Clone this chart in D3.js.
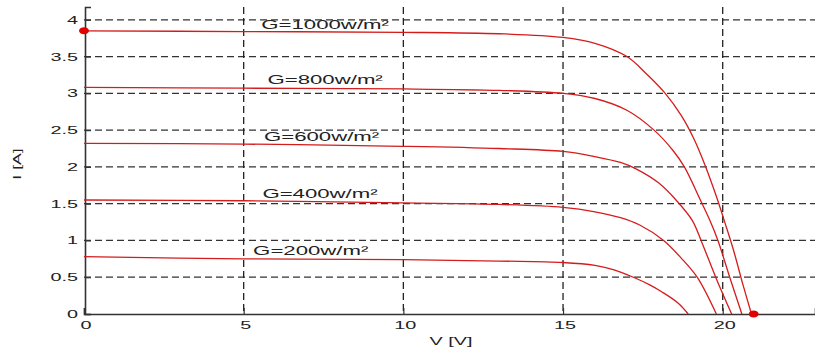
<!DOCTYPE html>
<html>
<head>
<meta charset="utf-8">
<script src="https://cdn.jsdelivr.net/npm/d3@7"></script>
<style>
  body { margin: 0; background: #fff; }
  text { font-family: "Liberation Sans", Arial, sans-serif; fill: #222; }
</style>
</head>
<body>
<figure id="iv" style="margin:0"></figure>
<script>
// I-V curves of a PV module at several irradiance levels
const labels = ["G=1000w/m²", "G=800w/m²", "G=600w/m²", "G=400w/m²", "G=200w/m²"];

const v1000 = [0, 5, 10, 13, 15, 16, 17, 17.6, 18.2, 18.7, 19.1, 19.45, 19.8, 20.1, 20.35, 20.62, 20.9];
const i1000 = [3.85, 3.84, 3.83, 3.81, 3.76, 3.68, 3.5, 3.27, 3.0, 2.7, 2.38, 2.02, 1.6, 1.2, 0.85, 0.42, 0];

const v800 = [0, 5, 10, 13, 15, 16, 17, 17.85, 18.45, 18.8, 19.3, 19.6, 19.85, 20.22, 20.6];
const i800 = [3.08, 3.07, 3.06, 3.04, 3.0, 2.93, 2.77, 2.5, 2.22, 2.0, 1.55, 1.27, 1.0, 0.5, 0];

const v600 = [0, 5, 10, 13, 15, 16, 16.8, 17.3, 18.0, 18.6, 19.05, 19.35, 19.8, 20.28];
const i600 = [2.32, 2.31, 2.28, 2.25, 2.21, 2.14, 2.06, 1.97, 1.78, 1.52, 1.27, 0.97, 0.48, 0];

const v400 = [0, 5, 10, 13, 15, 16, 16.8, 17.4, 18.15, 18.7, 19.2, 19.8];
const i400 = [1.55, 1.54, 1.51, 1.49, 1.45, 1.39, 1.31, 1.21, 1.0, 0.76, 0.5, 0];

const v200 = [0, 5, 10, 13, 15, 16, 16.6, 17.2, 17.7, 18.1, 18.6, 18.92];
const i200 = [0.78, 0.75, 0.74, 0.72, 0.70, 0.66, 0.6, 0.5, 0.4, 0.3, 0.15, 0];

// label anchor points (V, I) for the G= texts
const labelV = [7.55, 7.55, 7.44, 7.39, 7.1];
const labelI = [3.93, 3.18, 2.4, 1.63, 0.855];

// marked points: short-circuit current and open-circuit voltage at 1000 w/m²
const markV = [0, 20.97];
const markI = [3.85, 0];

const xTicks = [0, 5, 10, 15, 20];
const yTicks = [0, 0.5, 1, 1.5, 2, 2.5, 3, 3.5, 4];

const width = 815, height = 347;
const plotLeft = 84, plotRight = 815, plotTop = 7, plotBottom = 314;
const stretch = 1.8; // text in the picture is drawn wide

const series = [[v1000, i1000], [v800, i800], [v600, i600], [v400, i400], [v200, i200]]
  .map(s => s[0].map((v, k) => ({ v: v, i: s[1][k] })));

const svg = d3.select("figure#iv")
  .append("svg")
  .attr("width", width)
  .attr("height", height);

const x = d3.scaleLinear().domain([0, 22.89]).range([plotLeft, plotRight]);
const y = d3.scaleLinear().domain([0, 4.174]).range([plotBottom, plotTop]);

// dashed grid
svg.append("g")
  .selectAll("line")
  .data(yTicks.filter(t => t > 0))
  .enter()
  .append("line")
  .attr("x1", plotLeft).attr("x2", plotRight)
  .attr("y1", d => y(d)).attr("y2", d => y(d))
  .attr("stroke", "#333")
  .attr("stroke-width", 1.3)
  .attr("stroke-dasharray", "7,4");

svg.append("g")
  .selectAll("line")
  .data(xTicks.filter(t => t > 0))
  .enter()
  .append("line")
  .attr("x1", d => x(d)).attr("x2", d => x(d))
  .attr("y1", plotTop).attr("y2", plotBottom)
  .attr("stroke", "#222")
  .attr("stroke-width", 1.3)
  .attr("stroke-dasharray", "7,4");

// axes
const xAxis = svg.append("g")
  .attr("transform", "translate(0," + plotBottom + ")")
  .call(d3.axisBottom(x).tickValues(xTicks).tickSize(-6).tickFormat(d3.format("d")));
const yAxis = svg.append("g")
  .attr("transform", "translate(" + (plotLeft + 1) + ",0)")
  .call(d3.axisLeft(y).tickValues(yTicks).tickSize(-6).tickFormat(d => d));

[xAxis, yAxis].forEach(a => {
  a.select(".domain").attr("stroke", "#333").attr("stroke-width", 1.6);
  a.selectAll(".tick line").attr("stroke", "#333").attr("stroke-width", 1.2);
  a.selectAll("text").remove();
});

// tick labels drawn wide, like the picture
svg.append("g")
  .selectAll("text")
  .data(xTicks)
  .enter()
  .append("text")
  .attr("transform", d => "translate(" + (x(d) + 2) + "," + (plotBottom + 15) + ") scale(" + stretch + ",1)")
  .attr("text-anchor", "middle")
  .attr("font-size", 11)
  .text(d => d);

svg.append("g")
  .selectAll("text")
  .data(yTicks)
  .enter()
  .append("text")
  .attr("transform", d => "translate(78," + (y(d) + 4) + ") scale(" + stretch + ",1)")
  .attr("text-anchor", "end")
  .attr("font-size", 11)
  .text(d => d);

svg.append("text")
  .attr("transform", "translate(451,345) scale(" + stretch + ",1)")
  .attr("text-anchor", "middle")
  .attr("font-size", 11)
  .text("V [V]");

svg.append("text")
  .attr("transform", "translate(21,164) rotate(-90) scale(1.6,1)")
  .attr("text-anchor", "middle")
  .attr("font-size", 11)
  .text("I [A]");

// curves
const line = d3.line()
  .x(d => x(d.v))
  .y(d => y(d.i))
  .curve(d3.curveCatmullRom.alpha(0.5));

svg.append("g")
  .selectAll("path")
  .data(series)
  .enter()
  .append("path")
  .attr("d", line)
  .attr("fill", "none")
  .attr("stroke", "#d41c1c")
  .attr("stroke-width", 1.3);

// irradiance labels
svg.append("g")
  .selectAll("text")
  .data(labels)
  .enter()
  .append("text")
  .attr("transform", (d, k) => "translate(" + x(labelV[k]) + "," + (y(labelI[k]) + 4) + ") scale(1.85,1)")
  .attr("text-anchor", "middle")
  .attr("font-size", 12)
  .text(d => d);

// marked points
svg.append("g")
  .selectAll("ellipse")
  .data(markV)
  .enter()
  .append("ellipse")
  .attr("cx", d => x(d))
  .attr("cy", (d, k) => y(markI[k]))
  .attr("rx", 5)
  .attr("ry", 3.5)
  .attr("fill", "#e00000");
</script>
</body>
</html>
